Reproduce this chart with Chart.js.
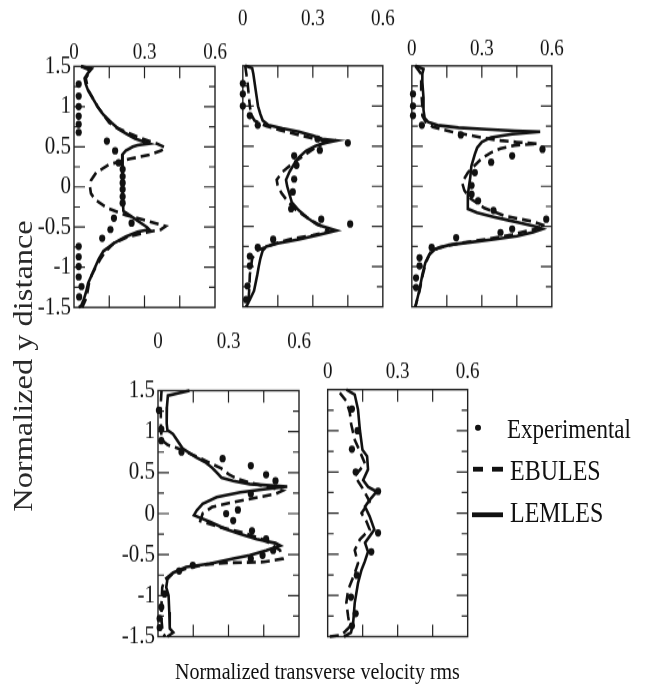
<!DOCTYPE html>
<html>
<head>
<meta charset="utf-8">
<script src="https://cdn.jsdelivr.net/npm/chart.js@4.4.1/dist/chart.umd.min.js"></script>
<style>
  html, body { margin: 0; padding: 0; background: #fff; overflow: hidden; }
  /* the source figure is stretched vertically, so the whole page is too */
  #page {
    position: absolute; left: 0; top: 0; width: 646px; height: 574px;
    transform: scaleY(1.2); transform-origin: 0 0;
    font-family: "Liberation Serif", "Times New Roman", serif; color: #111;
  }
  #page canvas { position: absolute; }
  .txt { position: absolute; white-space: nowrap; line-height: 1; }
  .mark { position: absolute; background: #111; }
</style>
</head>
<body>
<div id="page">
  <div class="txt" id="ytitle" style="left:22.5px; top:304.5px; font-size:27px; color:#2a2a2a; transform:translate(-50%,-50%) rotate(-90deg);">Normalized y distance</div>
  <div class="txt" style="left:175px; top:548.6px; font-size:20px;">Normalized transverse velocity rms</div>

  <div class="mark" style="left:475px; top:354px; width:6px; height:5.4px; border-radius:50%;"></div>
  <div class="txt" style="left:507px; top:345.8px; font-size:23px;">Experimental</div>
  <div class="mark" style="left:473px; top:389px; width:10px; height:4px;"></div>
  <div class="mark" style="left:492px; top:389px; width:11px; height:4px;"></div>
  <div class="txt" style="left:510px; top:379.5px; font-size:24px;">EBULES</div>
  <div class="mark" style="left:472px; top:427px; width:31px; height:4px;"></div>
  <div class="txt" style="left:510px; top:414.8px; font-size:24px;">LEMLES</div>
</div>

<script>
const S = 1.2;

const xTickValues = [0, 0.3, 0.6];
const yTickValues = [-1.5, -1, -0.5, 0, 0.5, 1, 1.5];
const xInnerTicks = [0.15, 0.3, 0.45];
const yInnerTicks = [-1.25, -1, -0.75, -0.5, -0.25, 0, 0.25, 0.5, 0.75, 1, 1.25];

// panel 1
const p1ExpY = [1.28, 1.13, 1.0, 0.88, 0.78, 0.68, 0.57, 0.45, 0.3, 0.22, 0.13, 0.05, -0.03, -0.12, -0.2, -0.39, -0.45, -0.53, -0.64, -0.74, -0.87, -0.99, -1.12, -1.24, -1.37];
const p1ExpX = [0.02, 0.02, 0.02, 0.02, 0.02, 0.02, 0.14, 0.175, 0.19, 0.207, 0.207, 0.207, 0.207, 0.207, 0.207, 0.17, 0.245, 0.155, 0.12, 0.02, 0.02, 0.02, 0.02, 0.032, 0.022];
const p1EbuY = [1.5, 1.45, 1.35, 1.2, 1.0, 0.9, 0.8, 0.74, 0.66, 0.6, 0.54, 0.49, 0.45, 0.4, 0.35, 0.28, 0.18, 0.08, 0, -0.08, -0.16, -0.26, -0.35, -0.43, -0.49, -0.53, -0.57, -0.62, -0.7, -0.8, -0.9, -1.0, -1.1, -1.2, -1.3, -1.4, -1.5];
const p1EbuX = [0.03, 0.07, 0.05, 0.062, 0.1, 0.125, 0.15, 0.18, 0.24, 0.29, 0.35, 0.39, 0.37, 0.32, 0.24, 0.15, 0.095, 0.072, 0.068, 0.072, 0.09, 0.14, 0.22, 0.32, 0.39, 0.37, 0.3, 0.23, 0.17, 0.135, 0.112, 0.092, 0.075, 0.064, 0.058, 0.05, 0.035];
const p1LemY = [1.5, 1.47, 1.42, 1.35, 1.28, 1.2, 1.1, 1.0, 0.9, 0.8, 0.72, 0.65, 0.6, 0.56, 0.54, 0.52, 0.5, 0.45, 0.4, 0.3, 0.1, -0.1, -0.3, -0.35, -0.42, -0.5, -0.53, -0.56, -0.62, -0.7, -0.8, -0.9, -1.0, -1.1, -1.2, -1.3, -1.4, -1.48, -1.5];
const p1LemX = [0.03, 0.075, 0.06, 0.045, 0.05, 0.06, 0.08, 0.1, 0.125, 0.16, 0.19, 0.23, 0.26, 0.3, 0.32, 0.27, 0.25, 0.22, 0.205, 0.207, 0.207, 0.207, 0.21, 0.235, 0.27, 0.31, 0.32, 0.27, 0.22, 0.17, 0.125, 0.105, 0.09, 0.075, 0.06, 0.052, 0.042, 0.03, 0.02];

// panel 2
const p2ExpY = [1.28, 1.15, 1.0, 0.88, 0.76, 0.59, 0.54, 0.45, 0.38, 0.26, 0.09, -0.07, -0.28, -0.41, -0.47, -0.66, -0.76, -0.87, -0.99, -1.24, -1.41];
const p2ExpX = [0, 0, 0, 0.03, 0.064, 0.32, 0.45, 0.33, 0.22, 0.23, 0.22, 0.214, 0.207, 0.336, 0.46, 0.13, 0.064, 0.03, 0.03, 0.02, 0.014];
const p2EbuY = [1.5, 1.3, 1.15, 1.0, 0.9, 0.82, 0.75, 0.7, 0.64, 0.59, 0.56, 0.53, 0.48, 0.4, 0.3, 0.18, 0.08, 0, -0.08, -0.18, -0.3, -0.42, -0.5, -0.56, -0.61, -0.66, -0.72, -0.8, -0.9, -1.0, -1.1, -1.25, -1.4, -1.5];
const p2EbuX = [0.01, 0.02, 0.025, 0.03, 0.035, 0.05, 0.1, 0.16, 0.24, 0.31, 0.37, 0.34, 0.31, 0.27, 0.22, 0.17, 0.145, 0.15, 0.165, 0.19, 0.23, 0.29, 0.34, 0.37, 0.3, 0.2, 0.13, 0.06, 0.04, 0.035, 0.03, 0.028, 0.025, 0.015];
const p2LemY = [1.5, 1.47, 1.4, 1.3, 1.2, 1.1, 1.0, 0.9, 0.82, 0.76, 0.72, 0.68, 0.63, 0.59, 0.57, 0.54, 0.5, 0.44, 0.36, 0.28, 0.18, 0.08, 0, -0.1, -0.2, -0.3, -0.4, -0.48, -0.55, -0.6, -0.66, -0.71, -0.75, -0.8, -0.9, -1.0, -1.1, -1.2, -1.3, -1.4, -1.5];
const p2LemX = [0.01, 0.04, 0.045, 0.05, 0.055, 0.06, 0.065, 0.075, 0.085, 0.11, 0.17, 0.24, 0.3, 0.34, 0.4, 0.35, 0.31, 0.27, 0.24, 0.22, 0.2, 0.185, 0.19, 0.2, 0.21, 0.24, 0.28, 0.32, 0.4, 0.33, 0.24, 0.15, 0.1, 0.085, 0.075, 0.068, 0.062, 0.055, 0.048, 0.032, 0.015];

// panel 3
const p3ExpY = [1.15, 1.0, 0.88, 0.76, 0.64, 0.46, 0.38, 0.3, 0.17, 0.01, -0.1, -0.18, -0.3, -0.41, -0.53, -0.575, -0.64, -0.76, -0.89, -0.99, -1.14, -1.26];
const p3ExpX = [0.005, 0.005, 0.005, 0.043, 0.21, 0.56, 0.43, 0.34, 0.27, 0.256, 0.256, 0.284, 0.35, 0.576, 0.43, 0.38, 0.19, 0.085, 0.033, 0.033, 0.018, 0.018];
const p3EbuY = [1.5, 1.4, 1.2, 1.0, 0.88, 0.8, 0.74, 0.68, 0.64, 0.6, 0.57, 0.55, 0.53, 0.51, 0.47, 0.42, 0.35, 0.26, 0.17, 0.05, -0.05, -0.15, -0.27, -0.37, -0.44, -0.49, -0.54, -0.6, -0.66, -0.71, -0.76, -0.82, -0.95, -1.1, -1.3, -1.5];
const p3EbuX = [0.015, 0.04, 0.04, 0.045, 0.045, 0.06, 0.09, 0.17, 0.24, 0.31, 0.38, 0.45, 0.54, 0.44, 0.38, 0.34, 0.3, 0.27, 0.24, 0.215, 0.225, 0.25, 0.31, 0.4, 0.52, 0.57, 0.52, 0.43, 0.32, 0.2, 0.12, 0.08, 0.06, 0.047, 0.033, 0.015];
const p3LemY = [1.5, 1.46, 1.4, 1.3, 1.1, 0.95, 0.85, 0.8, 0.76, 0.73, 0.71, 0.69, 0.68, 0.65, 0.61, 0.55, 0.48, 0.4, 0.25, 0.1, 0, -0.1, -0.2, -0.28, -0.33, -0.38, -0.42, -0.46, -0.5, -0.53, -0.57, -0.62, -0.66, -0.7, -0.73, -0.78, -0.85, -0.95, -1.1, -1.3, -1.5];
const p3LemX = [0.015, 0.05, 0.045, 0.045, 0.05, 0.05, 0.055, 0.07, 0.11, 0.2, 0.32, 0.44, 0.55, 0.43, 0.34, 0.3, 0.28, 0.27, 0.255, 0.25, 0.245, 0.24, 0.24, 0.24, 0.28, 0.35, 0.41, 0.47, 0.53, 0.56, 0.52, 0.45, 0.35, 0.24, 0.16, 0.1, 0.075, 0.058, 0.045, 0.032, 0.015];

// panel 4
const p4ExpY = [1.26, 1.03, 0.89, 0.75, 0.67, 0.585, 0.475, 0.4, 0.24, 0.045, 0, -0.085, -0.21, -0.31, -0.45, -0.51, -0.55, -0.63, -0.7, -0.98, -1.14, -1.28, -1.39];
const p4ExpX = [0.004, 0.014, 0.014, 0.1, 0.275, 0.395, 0.46, 0.5, 0.395, 0.34, 0.29, 0.32, 0.4, 0.46, 0.49, 0.445, 0.395, 0.148, 0.09, 0.028, 0.014, 0.007, 0.007];
const p4EbuY = [1.5, 1.35, 1.1, 0.9, 0.84, 0.79, 0.74, 0.69, 0.62, 0.55, 0.48, 0.42, 0.37, 0.32, 0.28, 0.24, 0.2, 0.14, 0.08, 0, -0.09, -0.17, -0.23, -0.33, -0.45, -0.55, -0.59, -0.6, -0.62, -0.67, -0.73, -0.8, -0.9, -1.1, -1.3, -1.45, -1.5];
const p4EbuX = [0.015, 0.012, 0.012, 0.015, 0.04, 0.09, 0.13, 0.17, 0.22, 0.27, 0.3, 0.34, 0.4, 0.48, 0.53, 0.5, 0.43, 0.32, 0.23, 0.19, 0.18, 0.27, 0.36, 0.46, 0.52, 0.53, 0.45, 0.3, 0.2, 0.12, 0.06, 0.03, 0.018, 0.015, 0.015, 0.02, 0.03];
const p4LemY = [1.5, 1.47, 1.44, 1.3, 1.1, 1.02, 0.97, 0.88, 0.79, 0.69, 0.63, 0.56, 0.5, 0.44, 0.4, 0.36, 0.33, 0.3, 0.26, 0.2, 0.12, 0.04, -0.02, -0.1, -0.19, -0.25, -0.31, -0.36, -0.39, -0.45, -0.51, -0.55, -0.61, -0.65, -0.72, -0.8, -0.9, -1.0, -1.2, -1.4, -1.45, -1.5];
const p4LemX = [0.134, 0.09, 0.042, 0.038, 0.037, 0.04, 0.064, 0.085, 0.106, 0.16, 0.2, 0.23, 0.25, 0.27, 0.32, 0.39, 0.55, 0.46, 0.35, 0.25, 0.19, 0.165, 0.153, 0.22, 0.29, 0.35, 0.42, 0.5, 0.52, 0.46, 0.39, 0.32, 0.22, 0.12, 0.065, 0.04, 0.035, 0.045, 0.048, 0.05, 0.065, 0.04];

// panel 5
const p5ExpY = [1.265, 1.0, 0.776, 0.5, 0.265, -0.24, -0.47, -0.755, -1.02, -1.22, -1.37];
const p5ExpX = [0.104, 0.128, 0.104, 0.12, 0.216, 0.216, 0.187, 0.125, 0.1, 0.12, 0.104];
const p5EbuY = [1.46, 1.36, 1.22, 1.09, 0.89, 0.75, 0.6, 0.45, 0.3, 0.14, 0, -0.1, -0.2, -0.32, -0.45, -0.61, -0.73, -0.93, -1.09, -1.26, -1.38, -1.48, -1.5];
const p5EbuX = [0.052, 0.08, 0.095, 0.1, 0.116, 0.138, 0.16, 0.116, 0.15, 0.18, 0.145, 0.166, 0.18, 0.138, 0.116, 0.13, 0.116, 0.088, 0.08, 0.088, 0.095, 0.06, 0.007];
const p5LemY = [1.5, 1.44, 1.26, 1.01, 0.77, 0.69, 0.53, 0.4, 0.32, 0.26, 0.16, 0.08, -0.04, -0.2, -0.28, -0.36, -0.47, -0.59, -0.69, -0.85, -1.09, -1.34, -1.45, -1.5];
const p5LemX = [0.08, 0.116, 0.13, 0.138, 0.149, 0.169, 0.173, 0.152, 0.173, 0.21, 0.18, 0.16, 0.18, 0.2, 0.18, 0.16, 0.173, 0.159, 0.145, 0.13, 0.116, 0.109, 0.1, 0.07];

// box = [left, top, right, bottom] in picture pixels, labelY = centre of the top tick labels
const panels = [
  { box: [74, 66, 215, 307], labelY: 53, yLabels: true, exp: [p1ExpX, p1ExpY], ebu: [p1EbuX, p1EbuY], lem: [p1LemX, p1LemY] },
  { box: [243, 66, 383, 307], labelY: 20, yLabels: false, exp: [p2ExpX, p2ExpY], ebu: [p2EbuX, p2EbuY], lem: [p2LemX, p2LemY] },
  { box: [412, 66, 552, 307], labelY: 50, yLabels: false, exp: [p3ExpX, p3ExpY], ebu: [p3EbuX, p3EbuY], lem: [p3LemX, p3LemY] },
  { box: [158, 390, 299, 636], labelY: 342, yLabels: true, exp: [p4ExpX, p4ExpY], ebu: [p4EbuX, p4EbuY], lem: [p4LemX, p4LemY] },
  { box: [328, 390, 468, 637], labelY: 373, yLabels: false, exp: [p5ExpX, p5ExpY], ebu: [p5EbuX, p5EbuY], lem: [p5LemX, p5LemY] }
];

function pts(xs, ys) {
  return xs.map((x, i) => ({ x, y: ys[i] }));
}

// frame and inward tick marks
const framePlugin = {
  id: "frame",
  beforeDatasetsDraw(chart) {
    const { ctx, chartArea: a, scales } = chart;
    ctx.save();
    ctx.strokeStyle = "#222";
    ctx.lineWidth = 1.4;
    ctx.strokeRect(a.left, a.top, a.right - a.left, a.bottom - a.top);
    ctx.lineWidth = 1.2;
    ctx.beginPath();
    for (const v of xInnerTicks) {
      const px = scales.x.getPixelForValue(v);
      const len = 10;
      ctx.moveTo(px, a.top); ctx.lineTo(px, a.top + len);
      ctx.moveTo(px, a.bottom); ctx.lineTo(px, a.bottom - len);
    }
    for (const v of yInnerTicks) {
      const py = scales.y.getPixelForValue(v);
      const major = Math.abs(v * 2 - Math.round(v * 2)) < 1e-6;
      const len = major ? 11 : 6;
      ctx.moveTo(a.left, py); ctx.lineTo(a.left + len, py);
      ctx.moveTo(a.right, py); ctx.lineTo(a.right - len, py);
    }
    ctx.stroke();
    ctx.restore();
  }
};

function makePanel(p) {
  const [L, T, R, B] = p.box;
  const xFont = 19;
  const pad = (T - p.labelY) / S - xFont / 2;
  const mT = pad + xFont + 4;
  // Chart.js adds the tick padding to the side overflow of the top labels,
  // so the side margins have to cover it or the plot area shrinks
  const mL = Math.max(p.yLabels ? 50 : 20, pad + 18);
  const mR = Math.max(22, pad + 24);
  const boxH = (B - T) / S;
  const h = Math.ceil(mT + boxH + 14);
  const mB = h - mT - boxH;

  const canvas = document.createElement("canvas");
  canvas.width = Math.ceil((R - L) + mL + mR);
  canvas.height = h;
  canvas.style.left = (L - mL) + "px";
  canvas.style.top = (T / S - mT) + "px";
  canvas.style.width = canvas.width + "px";
  canvas.style.height = h + "px";
  document.getElementById("page").appendChild(canvas);
  const padR = canvas.width - mL - (R - L);

  new Chart(canvas, {
    type: "scatter",
    data: {
      datasets: [
        {
          label: "Experimental",
          data: pts(p.exp[0], p.exp[1]),
          showLine: false,
          pointRadius: 3.1,
          pointBackgroundColor: "#111",
          pointBorderWidth: 0,
          clip: false
        },
        {
          label: "EBULES",
          data: pts(p.ebu[0], p.ebu[1]),
          showLine: true,
          borderColor: "#111",
          borderWidth: 2.6,
          borderDash: [9, 5],
          pointRadius: 0,
          clip: false
        },
        {
          label: "LEMLES",
          data: pts(p.lem[0], p.lem[1]),
          showLine: true,
          borderColor: "#111",
          borderWidth: 2.6,
          pointRadius: 0,
          clip: false
        }
      ]
    },
    options: {
      responsive: false,
      animation: false,
      events: [],
      layout: { padding: { left: 0, right: padR, top: 0, bottom: mB } },
      plugins: { legend: { display: false }, tooltip: { enabled: false } },
      scales: {
        x: {
          type: "linear",
          position: "top",
          min: 0,
          max: 0.6,
          afterBuildTicks: s => { s.ticks = xTickValues.map(v => ({ value: v })); },
          afterFit: s => { s.height = mT; },
          grid: { display: false, drawTicks: false },
          border: { display: false },
          ticks: {
            padding: pad,
            autoSkip: false,
            maxRotation: 0,
            color: "#111",
            font: { size: xFont, lineHeight: 1 },
            callback: v => String(v)
          }
        },
        y: {
          type: "linear",
          position: "left",
          min: -1.5,
          max: 1.5,
          afterBuildTicks: s => { s.ticks = yTickValues.map(v => ({ value: v })); },
          afterFit: s => { s.width = mL; },
          grid: { display: false, drawTicks: false },
          border: { display: false },
          ticks: {
            display: p.yLabels,
            padding: 3,
            autoSkip: false,
            color: "#111",
            font: { size: 21, lineHeight: 1 },
            callback: v => String(v)
          }
        }
      }
    },
    plugins: [framePlugin]
  });
}

Chart.defaults.font.family = "'Liberation Serif', 'Times New Roman', serif";
panels.forEach(makePanel);
</script>
</body>
</html>
